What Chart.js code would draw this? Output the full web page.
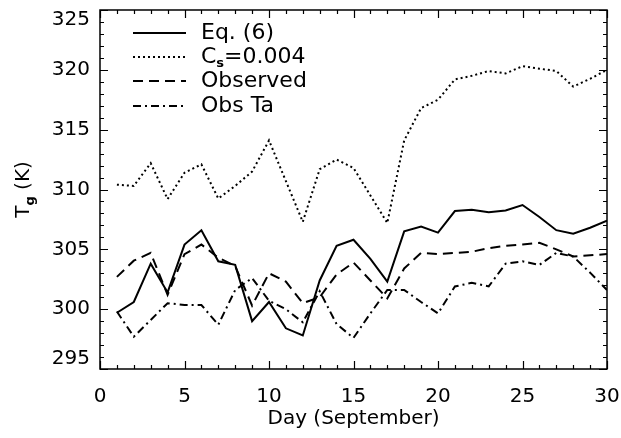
<!DOCTYPE html>
<html>
<head>
<meta charset="utf-8">
<script src="https://cdn.jsdelivr.net/npm/chart.js@4.4.1/dist/chart.umd.min.js"></script>
<style>
  body { margin: 0; background: #ffffff; }
  #wrap { width: 621px; height: 438px; }
</style>
</head>
<body>
<div id="wrap"><canvas id="grafico" width="621" height="438"></canvas></div>
<script>
// dados (dia de setembro, temperatura em K)
let dias = [1, 2, 3, 4, 5, 6, 7, 8, 9, 10, 11, 12, 13, 14, 15, 16, 17, 18, 19, 20, 21, 22, 23, 24, 25, 26, 27, 28, 29, 30];
let eq6 = [299.7, 300.6, 303.8, 301.4, 305.4, 306.6, 304.0, 303.7, 299.0, 300.6, 298.4, 297.8, 302.4, 305.3, 305.8,
           304.2, 302.3, 306.5, 306.9, 306.4, 308.2, 308.3, 308.1, 308.25, 308.7, 307.7, 306.6, 306.3, 306.8, 307.4];
let cs004 = [310.4, 310.3, 312.2, 309.2, 311.4, 312.1, 309.25, 310.3, 311.5, 314.1, 310.7, 307.3, 311.7, 312.5, 311.8,
             309.5, 307.2, 314.1, 316.8, 317.5, 319.2, 319.5, 319.9, 319.7, 320.3, 320.1, 319.9, 318.6, 319.25, 320.0];
let observado = [302.7, 304.05, 304.7, 301.2, 304.6, 305.4, 304.3, 303.6, 300.3, 303.0, 302.3, 300.5, 301.0, 302.9, 303.9,
                 302.4, 300.9, 303.4, 304.7, 304.6, 304.7, 304.8, 305.1, 305.3, 305.4, 305.55, 305.0, 304.4, 304.5, 304.6];
let obsTa = [299.8, 297.7, 299.1, 300.5, 300.35, 300.35, 298.7, 301.6, 302.6, 300.7, 300.0, 298.9, 301.5, 298.75, 297.6,
             299.65, 301.6, 301.6, 300.6, 299.65, 301.9, 302.2, 301.9, 303.8, 304.0, 303.7, 304.7, 304.4, 303.05, 301.6];

let xTicks = [0, 5, 10, 15, 20, 25, 30];
let yTicks = [295, 300, 305, 310, 315, 320, 325];

let legendas = ["Eq. (6)", "C|s|=0.004", "Observed", "Obs Ta"];
let tracos = [[], [2, 3], [10, 6], [8, 4, 2, 4]];

Chart.defaults.font.family = "'DejaVu Sans', sans-serif";
Chart.defaults.color = "#000";

function serie(valores) {
    return dias.map((d, i) => ({ x: d, y: valores[i] }));
}

function semPadding(s) {
    s.paddingTop = 0;
    s.paddingBottom = 0;
    s.paddingLeft = 0;
    s.paddingRight = 0;
}

let seriesTodas = [eq6, cs004, observado, obsTa];
let datasets = seriesTodas.map((v, i) => ({
    label: legendas[i],
    data: serie(v),
    borderColor: "#000",
    borderWidth: 2,
    borderDash: tracos[i],
    pointRadius: 0,
    tension: 0,
    fill: false
}));

// moldura, marcas internas, legenda e titulo do eixo y
let moldura = {
    id: "moldura",
    afterDraw(chart) {
        let ctx = chart.ctx;
        let ca = chart.chartArea;
        let sx = chart.scales.x;
        let sy = chart.scales.y;
        ctx.save();
        ctx.strokeStyle = "#000";
        ctx.lineWidth = 1.5;
        ctx.strokeRect(ca.left, ca.top, ca.right - ca.left, ca.bottom - ca.top);

        ctx.lineWidth = 1.2;
        ctx.beginPath();
        for (let v = 0; v <= 30; v++) {
            let px = Math.round(sx.getPixelForValue(v)) + 0.5;
            let len = v % 5 === 0 ? 8 : 4;
            ctx.moveTo(px, ca.bottom); ctx.lineTo(px, ca.bottom - len);
            ctx.moveTo(px, ca.top); ctx.lineTo(px, ca.top + len);
        }
        for (let v = 295; v <= 325; v++) {
            let py = Math.round(sy.getPixelForValue(v)) + 0.5;
            let len = v % 5 === 0 ? 8 : 4;
            ctx.moveTo(ca.left, py); ctx.lineTo(ca.left + len, py);
            ctx.moveTo(ca.right, py); ctx.lineTo(ca.right - len, py);
        }
        ctx.stroke();

        // legenda
        let linhasY = [33, 57, 81, 106];
        ctx.textBaseline = "middle";
        ctx.fillStyle = "#000";
        legendas.forEach((txt, i) => {
            let y = linhasY[i];
            ctx.setLineDash(tracos[i]);
            ctx.lineWidth = 2;
            ctx.beginPath();
            ctx.moveTo(133, y);
            ctx.lineTo(186, y);
            ctx.stroke();
            ctx.setLineDash([]);
            let partes = txt.split("|");
            let x = 201;
            partes.forEach((p, k) => {
                if (k === 1) {
                    ctx.font = "bold 13px 'DejaVu Sans'";
                    ctx.fillText(p, x, y + 7);
                } else {
                    ctx.font = "22px 'DejaVu Sans'";
                    ctx.fillText(p, x, y);
                }
                x += ctx.measureText(p).width;
            });
        });

        // titulo do eixo y com subscrito
        let cy = (ca.top + ca.bottom) / 2;
        ctx.translate(24, cy);
        ctx.rotate(-Math.PI / 2);
        ctx.font = "20px 'DejaVu Sans'";
        let wT = ctx.measureText("T").width;
        let wK = ctx.measureText(" (K)").width;
        ctx.font = "bold 13px 'DejaVu Sans'";
        let wg = ctx.measureText("g").width;
        let x0 = -(wT + wg + wK) / 2;
        ctx.font = "20px 'DejaVu Sans'";
        ctx.fillText("T", x0, 0);
        ctx.font = "bold 13px 'DejaVu Sans'";
        ctx.fillText("g", x0 + wT, 7);
        ctx.font = "20px 'DejaVu Sans'";
        ctx.fillText(" (K)", x0 + wT + wg, 0);
        ctx.restore();
    }
};

let ctx = document.getElementById("grafico").getContext("2d");
window.meuGrafico = new Chart(ctx, {
    type: "line",
    data: { datasets: datasets },
    options: {
        responsive: false,
        animation: false,
        devicePixelRatio: 1,
        layout: { padding: { top: 10, right: 14, left: 0, bottom: 0 } },
        plugins: {
            legend: { display: false },
            tooltip: { enabled: false }
        },
        scales: {
            x: {
                type: "linear",
                min: 0,
                max: 30,
                afterBuildTicks: s => { s.ticks = xTicks.map(v => ({ value: v })); },
                afterFit: s => { s.height = 69; semPadding(s); },
                grid: { display: false, drawTicks: false },
                border: { display: false },
                ticks: { font: { size: 20 }, padding: 16, maxRotation: 0 },
                title: {
                    display: true,
                    text: "Day (September)",
                    font: { size: 20 },
                    padding: { top: 0, bottom: 7 }
                }
            },
            y: {
                min: 295,
                max: 325,
                afterBuildTicks: s => { s.ticks = yTicks.map(v => ({ value: v })); },
                afterFit: s => { s.width = 100; semPadding(s); },
                grid: { display: false, drawTicks: false },
                border: { display: false },
                ticks: {
                    font: { size: 20, lineHeight: 1 },
                    padding: 10,
                    // extremos deslocados para dentro, como na figura original
                    callback: v => v === 325 ? ["", "325"] : v === 295 ? ["295", ""] : String(v)
                }
            }
        }
    },
    plugins: [moldura]
});
</script>
</body>
</html>
